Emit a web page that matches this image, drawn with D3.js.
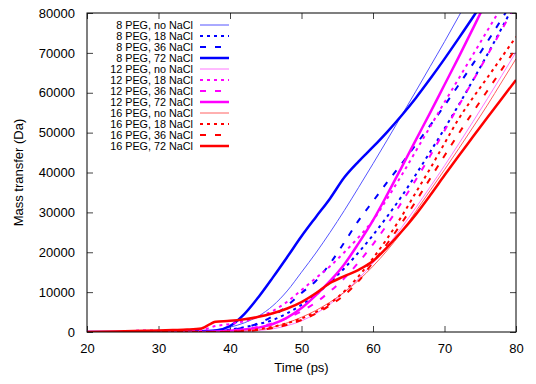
<html>
<head>
  <style>
    body { margin: 0; background: #fff; }
    svg text { font-family: "Liberation Sans", Arial, sans-serif; fill: #000; }
    svg .tick text { font-size: 13px; }
    svg .border { fill: none; stroke: #000; stroke-width: 1px; }
    svg .curve { fill: none; stroke-linejoin: round; }
  </style>
</head>
<body>
<div id="chart"></div>
<script src="https://cdn.jsdelivr.net/npm/d3@7"></script>
<script>
// time grid (ps)
var times = [20, 24, 28, 32, 34, 36, 38, 40, 42, 44, 46, 48, 50, 52, 54, 56, 58, 60, 62, 64, 66, 68, 70, 72, 74, 76, 78, 80];

// mass transfer (Da)
var peg8_none = [0, 0, 100, 200, 200, 300, 500, 1200, 2300, 4000, 6600, 10300, 15000, 19800, 25000, 30500, 36300, 42200, 48200, 54300, 60400, 66600, 72800, 79200, 85600, 92000, 98400, 105000];
var peg8_18   = [0, 0, 0, 100, 100, 200, 300, 600, 1200, 2000, 3000, 4700, 6800, 9300, 12500, 16000, 20000, 24300, 29000, 34000, 39500, 45200, 51000, 57000, 63200, 69600, 76200, 83000];
var peg8_36   = [0, 0, 0, 100, 100, 200, 300, 500, 1100, 2200, 4000, 6600, 9800, 12800, 17200, 22500, 28000, 32800, 37600, 42200, 47000, 51800, 56800, 62000, 67300, 72800, 78500, 84300];
var peg8_72   = [0, 0, 0, 100, 100, 200, 400, 1500, 4500, 8800, 13700, 18800, 24000, 28800, 33500, 38800, 42800, 46400, 50200, 54300, 58700, 63500, 68500, 73700, 79000, 84500, 90000, 95500];
var peg12_none = [0, 0, 0, 0, 0, 0, 0, 100, 200, 400, 800, 1600, 2800, 4600, 7000, 10000, 13400, 17300, 21500, 26200, 31200, 36400, 41700, 47200, 52800, 58500, 64300, 70200];
var peg12_18   = [0, 0, 400, 400, 400, 500, 1500, 2000, 2700, 3800, 5300, 7600, 10500, 13500, 16500, 20000, 23800, 28000, 33500, 39300, 45400, 51500, 57600, 63600, 69600, 75600, 81600, 87600];
var peg12_36   = [0, 0, 0, 0, 0, 0, 100, 300, 700, 1300, 2200, 3500, 5200, 7400, 10200, 13500, 17500, 22000, 27000, 32500, 38200, 44200, 50500, 56800, 63100, 69400, 75800, 82200];
var peg12_72   = [0, 0, 0, 0, 0, 0, 100, 300, 600, 1100, 2000, 3600, 6000, 9200, 12800, 17000, 22300, 28000, 34500, 41300, 48200, 55000, 62000, 69000, 76200, 83500, 91000, 98500];
var peg16_none = [0, 0, 0, 0, 0, 0, 0, 0, 200, 500, 1200, 2300, 3700, 5400, 7500, 10000, 13000, 16500, 20500, 25000, 30300, 35500, 40700, 46000, 51400, 56900, 62700, 68500];
var peg16_18   = [0, 0, 0, 0, 0, 0, 0, 100, 300, 700, 1300, 2200, 3400, 5000, 7200, 10200, 14000, 18500, 23500, 29000, 35000, 41000, 47300, 53500, 58800, 63800, 68900, 74000];
var peg16_36   = [0, 0, 0, 0, 0, 0, 0, 100, 200, 500, 1000, 1800, 3000, 4600, 6700, 9300, 12800, 17500, 22200, 27300, 32800, 38500, 44200, 49800, 55200, 60500, 65800, 71200];
var peg16_72   = [0, 100, 300, 500, 600, 900, 2600, 2800, 3200, 3800, 4700, 5900, 7500, 9700, 12300, 14000, 15600, 17800, 21300, 25200, 29500, 34300, 39300, 44200, 49000, 53800, 58500, 63200];

var labels = ["8 PEG, no NaCl", "8 PEG, 18 NaCl", "8 PEG, 36 NaCl", "8 PEG, 72 NaCl",
              "12 PEG, no NaCl", "12 PEG, 18 NaCl", "12 PEG, 36 NaCl", "12 PEG, 72 NaCl",
              "16 PEG, no NaCl", "16 PEG, 18 NaCl", "16 PEG, 36 NaCl", "16 PEG, 72 NaCl"];
var values = [peg8_none, peg8_18, peg8_36, peg8_72,
              peg12_none, peg12_18, peg12_36, peg12_72,
              peg16_none, peg16_18, peg16_36, peg16_72];

var xTicks = [20, 30, 40, 50, 60, 70, 80];
var yTicks = [0, 10000, 20000, 30000, 40000, 50000, 60000, 70000, 80000];

// line styles: colour, width, dash (none / 18 NaCl dotted / 36 NaCl dashed / 72 NaCl thick)
var colors = ["#5555ff", "#0000ff", "#0000ff", "#0000ff",
              "#ff77ff", "#ff00ff", "#ff00ff", "#ff00ff",
              "#ff6060", "#ff0000", "#ff0000", "#ff0000"];
var widths = [1, 2, 2, 2.5, 1, 2, 2, 2.5, 1, 2, 2, 2.5];
var dashes = [null, "3,4", "6,9", null, null, "3,4", "6,9", null, null, "3,4", "6,9", null];

(function () {
  var margin = { top: 13, right: 20, bottom: 52, left: 87 };
  var width = 536 - margin.left - margin.right,   // 429
      height = 384 - margin.top - margin.bottom;  // 319

  var svg = d3.select("#chart").append("svg")
      .attr("width", 536)
      .attr("height", 384)
    .append("g")
      .attr("transform", "translate(" + margin.left + "," + margin.top + ")");

  var xScale = d3.scaleLinear().domain([20, 80]).range([0, width]);
  var yScale = d3.scaleLinear().domain([0, 80000]).range([height, 0]);

  svg.append("clipPath").attr("id", "plotclip")
    .append("rect").attr("width", width).attr("height", height);

  // axes, gnuplot style ticks pointing inward, mirrored
  var xAxis = d3.axisBottom(xScale).tickValues(xTicks).tickSize(-6).tickPadding(12).tickSizeOuter(0);
  var yAxis = d3.axisLeft(yScale).tickValues(yTicks).tickSize(-6).tickPadding(12).tickSizeOuter(0)
    .tickFormat(d3.format("d"));

  svg.append("g").attr("transform", "translate(0," + height + ")").call(xAxis);
  svg.append("g").call(yAxis);
  svg.append("g").call(d3.axisTop(xScale).tickValues(xTicks).tickSize(-6).tickSizeOuter(0).tickFormat(""));
  svg.append("g").attr("transform", "translate(" + width + ",0)")
    .call(d3.axisRight(yScale).tickValues(yTicks).tickSize(-6).tickSizeOuter(0).tickFormat(""));

  svg.selectAll(".domain").remove();
  svg.selectAll(".tick line").attr("stroke", "#444");
  svg.selectAll(".tick text").style("font-size", "13px");

  // curves
  var line = d3.line()
    .x(function (d) { return xScale(d[0]); })
    .y(function (d) { return yScale(d[1]); })
    .curve(d3.curveMonotoneX);

  var plot = svg.append("g").attr("clip-path", "url(#plotclip)");
  values.forEach(function (vals, i) {
    var pts = times.map(function (t, k) { return [t, vals[k]]; });
    plot.append("path")
      .classed("curve", true)
      .attr("d", line(pts))
      .attr("stroke", colors[i])
      .attr("stroke-width", widths[i])
      .attr("stroke-dasharray", dashes[i]);
  });

  svg.append("rect").classed("border", true)
    .attr("width", width).attr("height", height);

  // legend
  var legend = svg.append("g").attr("transform", "translate(0,12)");
  labels.forEach(function (lab, i) {
    var y = i * 11;
    legend.append("text")
      .attr("x", 106).attr("y", y).attr("dy", "0.35em")
      .style("text-anchor", "end").style("font-size", "10.8px")
      .text(lab);
    legend.append("line")
      .attr("x1", 113).attr("x2", 142).attr("y1", y).attr("y2", y)
      .attr("stroke", colors[i])
      .attr("stroke-width", widths[i])
      .attr("stroke-dasharray", dashes[i]);
  });

  // axis titles
  svg.append("text")
    .attr("x", width / 2).attr("y", height + 40)
    .style("text-anchor", "middle").style("font-size", "13px")
    .text("Time (ps)");

  svg.append("text")
    .attr("transform", "translate(" + (-69) + "," + (height / 2) + ") rotate(-90)")
    .attr("dy", "0.35em")
    .style("text-anchor", "middle").style("font-size", "13px")
    .text("Mass transfer (Da)");
})();
</script>
</body>
</html>
